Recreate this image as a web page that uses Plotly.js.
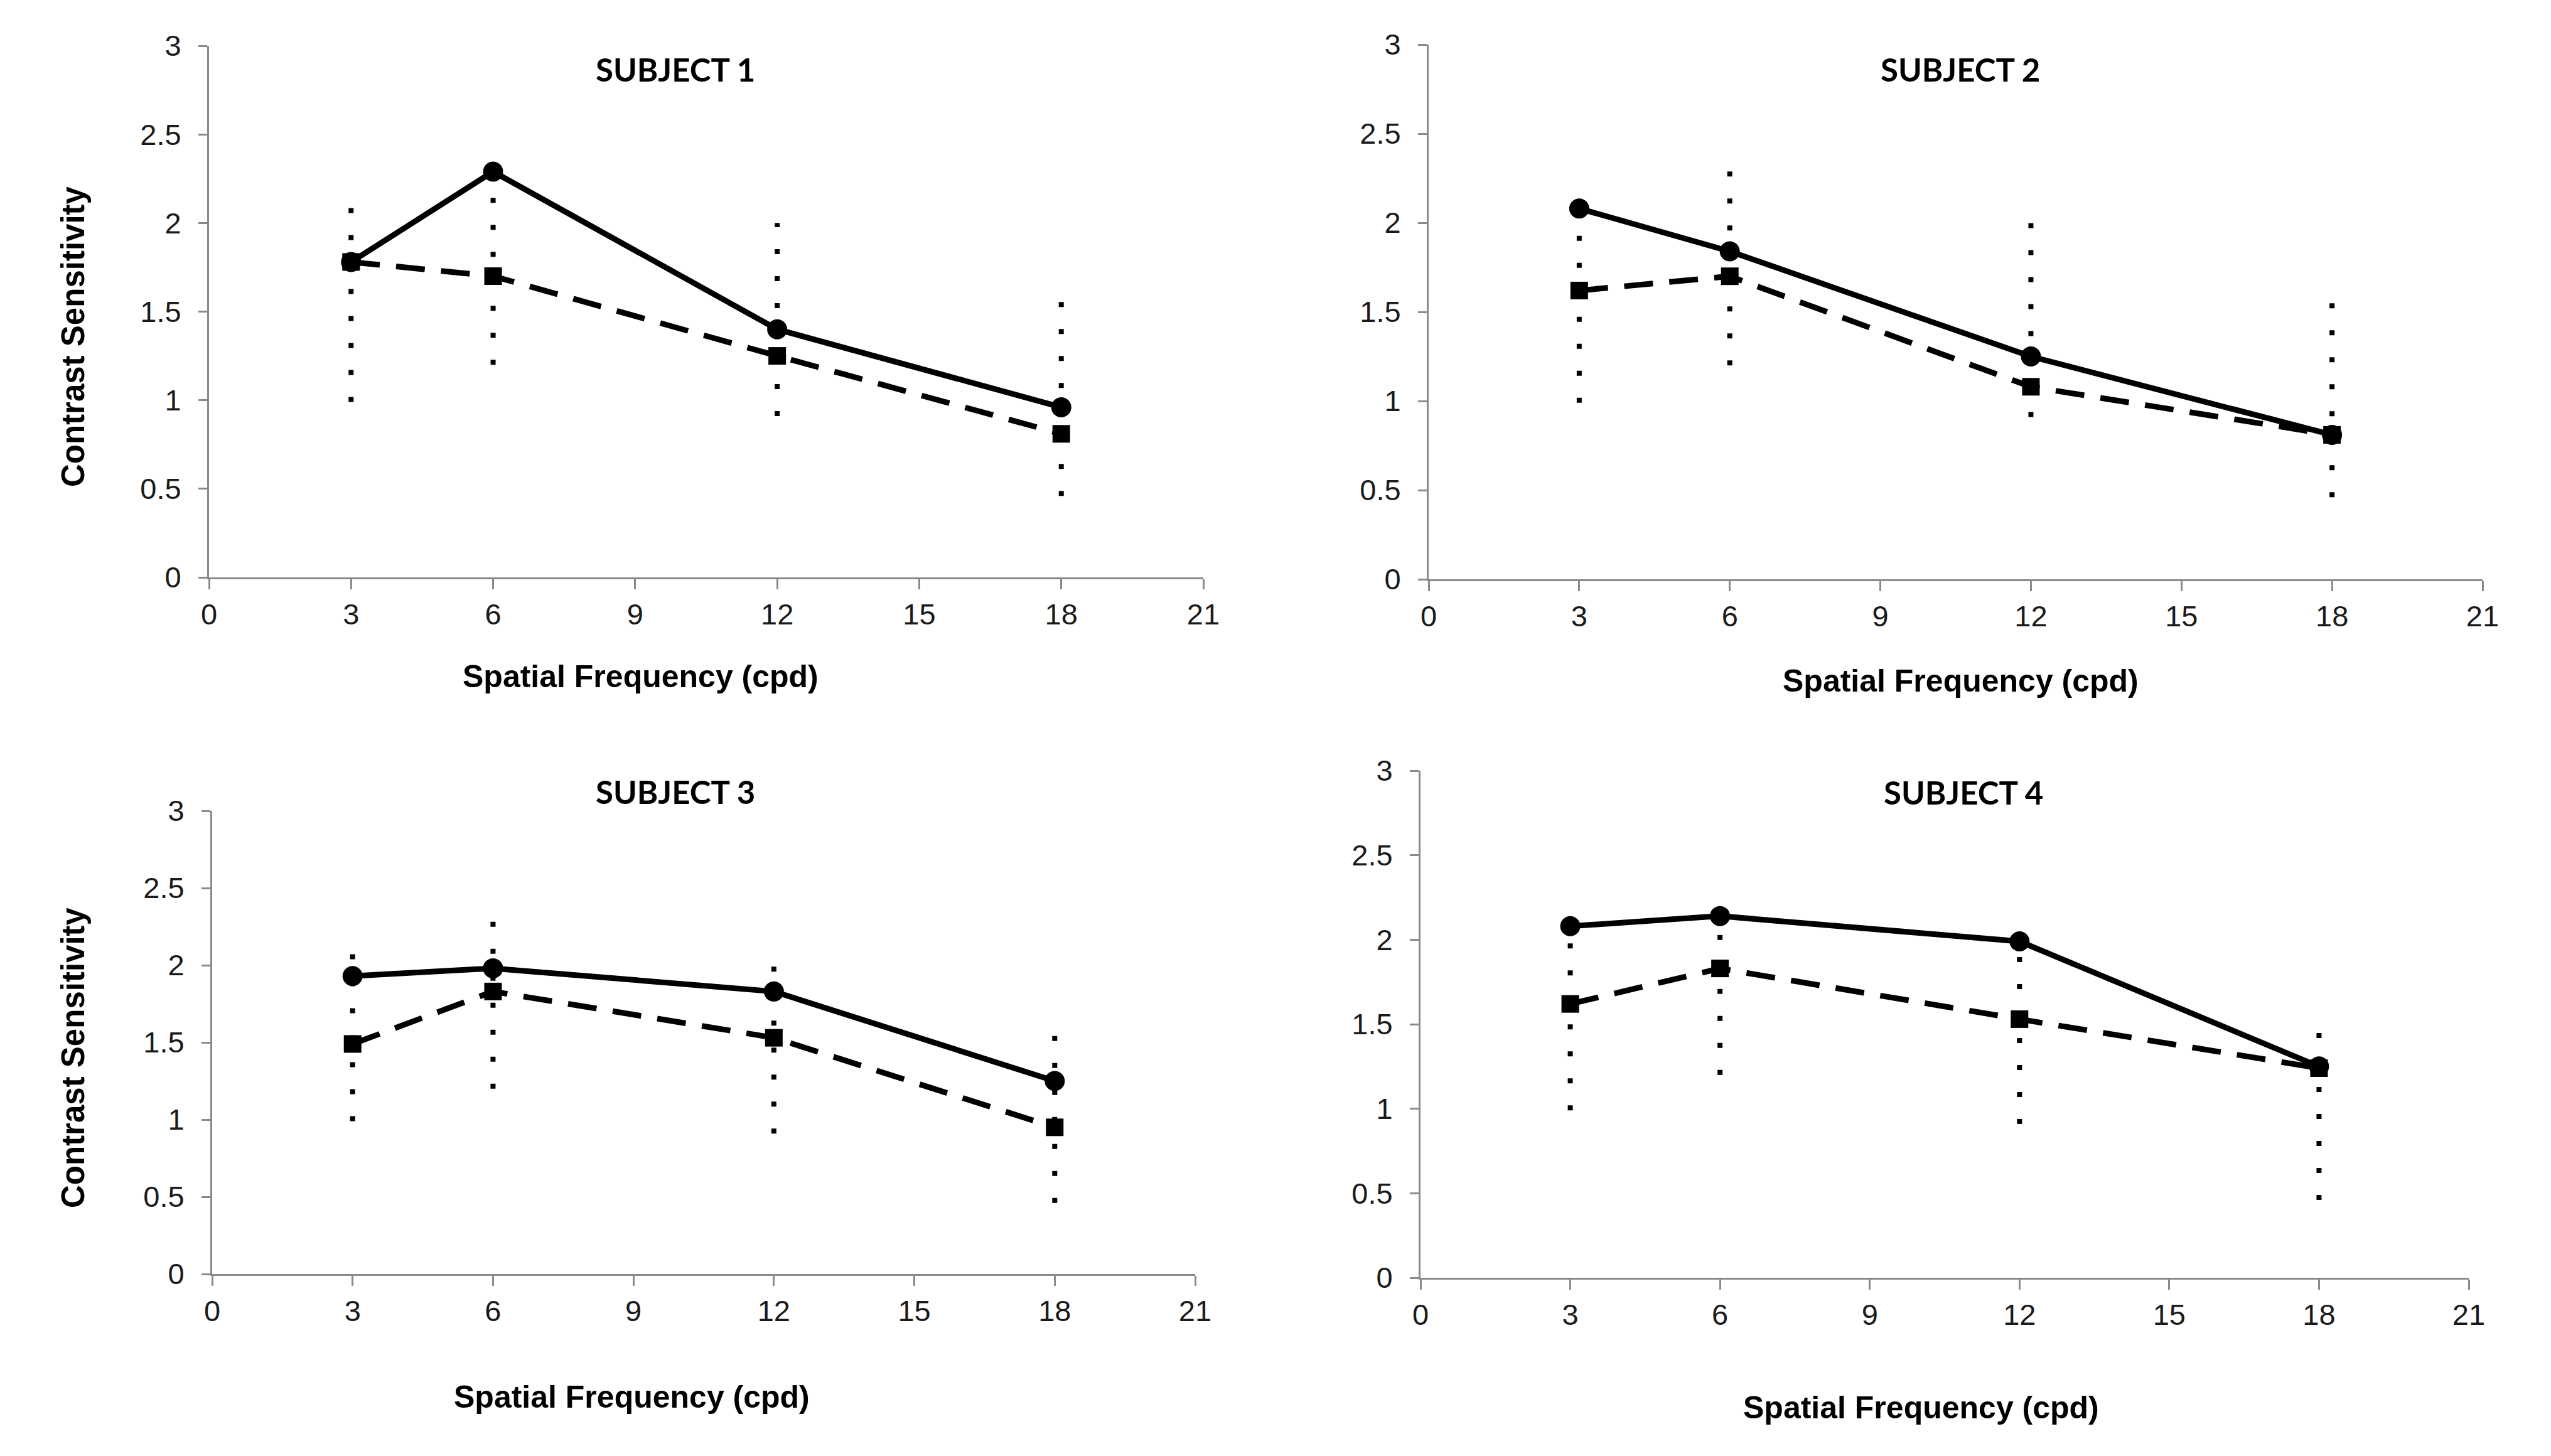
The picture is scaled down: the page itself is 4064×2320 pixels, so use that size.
<!DOCTYPE html>
<html>
<head>
<meta charset="utf-8">
<script src="https://cdn.plot.ly/plotly-3.0.1.min.js"></script>
<style>html,body{margin:0;padding:0;background:#fff;}#chart{width:4064px;height:2320px;}</style>
</head>
<body>
<div id="chart"></div>
<script>
// ---- data ----
var freqs = [3, 6, 12, 18];
var subjectTitles = ["SUBJECT 1", "SUBJECT 2", "SUBJECT 3", "SUBJECT 4"];
var s1Solid  = [1.78, 2.29, 1.40, 0.96];
var s1Dashed = [1.78, 1.70, 1.25, 0.81];
var s2Solid  = [2.08, 1.84, 1.25, 0.81];
var s2Dashed = [1.62, 1.70, 1.08, 0.81];
var s3Solid  = [1.93, 1.98, 1.83, 1.25];
var s3Dashed = [1.49, 1.83, 1.53, 0.95];
var s4Solid  = [2.08, 2.14, 1.99, 1.25];
var s4Dashed = [1.62, 1.83, 1.53, 1.24];
var normLow  = [0.99, 1.20, 0.91, 0.46];
var normHigh = [2.09, 2.30, 2.00, 1.56];
var xTickVals = [0, 3, 6, 9, 12, 15, 18, 21];
var yTickVals = [0, 0.5, 1, 1.5, 2, 2.5, 3];
var xTitleText = "Spatial Frequency (cpd)";
var yTitleText = "Contrast Sensitivity";

var solids = [s1Solid, s2Solid, s3Solid, s4Solid];
var dasheds = [s1Dashed, s2Dashed, s3Dashed, s4Dashed];

// ---- layout geometry ----
var W = 4064, H = 2320;
var panels = [
  {x0: 333,  x1: 1917, y0: 73,   y1: 920,  tx: 1076, ty: 110,  xtx: 1020, xty: 1078, ytx: 116, yty: 536},
  {x0: 2276, x1: 3955, y0: 71,   y1: 923,  tx: 3123, ty: 110,  xtx: 3123, xty: 1085},
  {x0: 338,  x1: 1904, y0: 1292, y1: 2030, tx: 1076, ty: 1261, xtx: 1006, xty: 2226, ytx: 116, yty: 1685},
  {x0: 2263, x1: 3933, y0: 1228, y1: 2036, tx: 3128, ty: 1262, xtx: 3060, xty: 2243}
];

var data = [];
var layout = {
  width: W, height: H,
  margin: {l: 0, r: 0, t: 0, b: 0},
  paper_bgcolor: "#ffffff",
  plot_bgcolor: "#ffffff",
  showlegend: false,
  annotations: []
};

var axisLine = "#8a8a8a";
var tickFont = {family: "Liberation Sans, Arial, sans-serif", size: 47, color: "#1a1a1a"};

panels.forEach(function (p, i) {
  var n = i + 1;
  var xa = "x" + (n === 1 ? "" : n), ya = "y" + (n === 1 ? "" : n);
  var xk = "xaxis" + (n === 1 ? "" : n), yk = "yaxis" + (n === 1 ? "" : n);

  layout[xk] = {
    domain: [p.x0 / W, p.x1 / W],
    anchor: ya,
    range: [0, 21],
    tickmode: "array", tickvals: xTickVals,
    showgrid: false, zeroline: false,
    showline: true, linecolor: axisLine, linewidth: 3,
    ticks: "outside", ticklen: 16, tickwidth: 3, tickcolor: axisLine,
    tickfont: tickFont, ticklabelstandoff: 0,
    fixedrange: true
  };
  layout[yk] = {
    domain: [1 - p.y1 / H, 1 - p.y0 / H],
    anchor: xa,
    range: [0, 3],
    tickmode: "array", tickvals: yTickVals,
    showgrid: false, zeroline: false,
    showline: true, linecolor: axisLine, linewidth: 3,
    ticks: "outside", ticklen: 14, tickwidth: 3, tickcolor: axisLine,
    tickfont: tickFont, ticklabelstandoff: 18,
    fixedrange: true
  };

  // normal range dotted verticals
  var nx = [], ny = [];
  for (var k = 0; k < freqs.length; k++) {
    nx.push(freqs[k], freqs[k], null);
    ny.push(normLow[k], normHigh[k], null);
  }
  data.push({
    type: "scatter", mode: "lines", x: nx, y: ny, xaxis: xa, yaxis: ya,
    line: {color: "#000", width: 8, dash: "8px,35px"},
    hoverinfo: "skip", connectgaps: false
  });
  data.push({
    type: "scatter", mode: "lines+markers", x: freqs, y: dasheds[i], xaxis: xa, yaxis: ya,
    line: {color: "#000", width: 9, dash: "46px,26px"},
    marker: {symbol: "square", size: 28, color: "#000"}
  });
  data.push({
    type: "scatter", mode: "lines+markers", x: freqs, y: solids[i], xaxis: xa, yaxis: ya,
    line: {color: "#000", width: 9},
    marker: {symbol: "circle", size: 32, color: "#000"}
  });

  layout.annotations.push({
    text: "<b>" + subjectTitles[i] + "</b>",
    xref: "paper", yref: "paper", x: p.tx / W, y: 1 - p.ty / H,
    xanchor: "center", yanchor: "middle", showarrow: false,
    font: {family: "Lato, Carlito, sans-serif", size: 51, weight: 900, color: "#000"}
  });
  layout.annotations.push({
    text: "<b>" + xTitleText + "</b>",
    xref: "paper", yref: "paper", x: p.xtx / W, y: 1 - p.xty / H,
    xanchor: "center", yanchor: "middle", showarrow: false,
    font: {family: "Liberation Sans, Arial, sans-serif", size: 50, color: "#000"}
  });
  if (p.ytx) {
    layout.annotations.push({
      text: "<b>" + yTitleText + "</b>",
      xref: "paper", yref: "paper", x: p.ytx / W, y: 1 - p.yty / H,
      xanchor: "center", yanchor: "middle", showarrow: false, textangle: -90,
      font: {family: "Liberation Sans, Arial, sans-serif", size: 51, color: "#000"}
    });
  }
});

Plotly.newPlot("chart", data, layout, {staticPlot: true, displayModeBar: false});
</script>
</body>
</html>
